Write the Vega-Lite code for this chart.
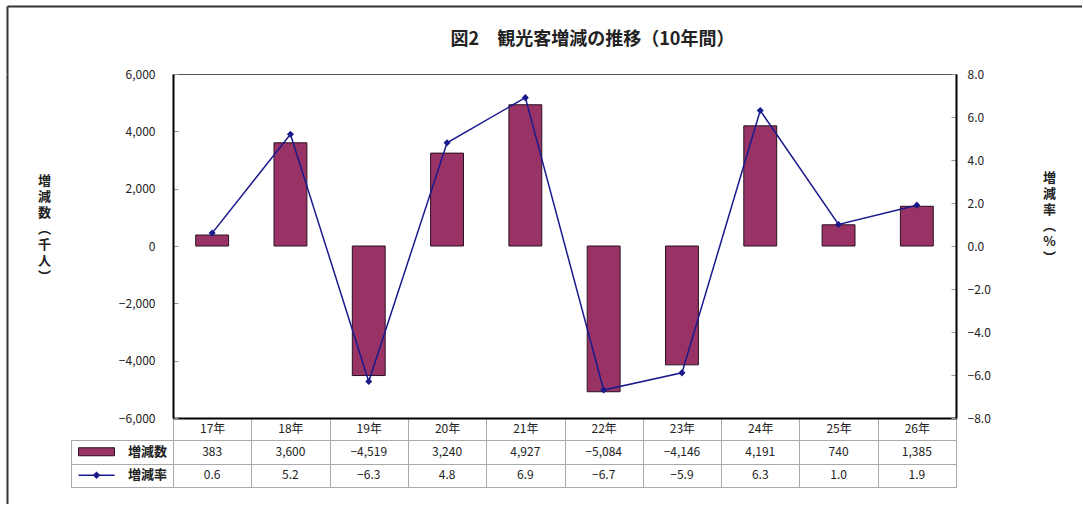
{
  "$schema": "https://vega.github.io/schema/vega-lite/v6.json",
  "padding": {"left": 7, "top": 6, "right": 0, "bottom": 0},
  "background": "white",
  "config": {
    "font": "Noto Sans CJK JP",
    "view": {"stroke": null},
    "axis": {"labelFont": "Noto Sans CJK JP", "titleFont": "Noto Sans CJK JP"}
  },
  "datasets": {
    "tourism": [
      {"year": "17年", "count": 383, "rate": 0.6},
      {"year": "18年", "count": 3600, "rate": 5.2},
      {"year": "19年", "count": -4519, "rate": -6.3},
      {"year": "20年", "count": 3240, "rate": 4.8},
      {"year": "21年", "count": 4927, "rate": 6.9},
      {"year": "22年", "count": -5084, "rate": -6.7},
      {"year": "23年", "count": -4146, "rate": -5.9},
      {"year": "24年", "count": 4191, "rate": 6.3},
      {"year": "25年", "count": 740, "rate": 1.0},
      {"year": "26年", "count": 1385, "rate": 1.9}
    ],
    "legendRows": [
      {"series": "増減数", "kind": "bar"},
      {"series": "増減率", "kind": "line"}
    ]
  },
  "bounds": "flush",
  "spacing": 0,
  "vconcat": [
    {
      "width": 1075,
      "height": 68,
      "data": {"values": []},
      "mark": "point",
      "encoding": {
        "x": {"field": "u", "type": "quantitative", "scale": {"domain": [0, 1]},
          "axis": {"orient": "top", "domainColor": "#333", "domainWidth": 2, "ticks": false, "labels": false, "grid": false, "title": null}},
        "y": {"field": "v", "type": "quantitative", "scale": {"domain": [0, 1]},
          "axis": {"orient": "left", "domainColor": "#333", "domainWidth": 2, "ticks": false, "labels": false, "grid": false, "title": null}}
      }
    },
    {
      "bounds": "flush",
      "spacing": 63,
      "hconcat": [
        {
          "width": 1,
          "height": 430,
          "data": {"values": []},
          "mark": "point",
          "encoding": {
            "y": {"field": "v", "type": "quantitative", "scale": {"domain": [0, 1]},
              "axis": {"orient": "left", "domainColor": "#333", "domainWidth": 2, "ticks": false, "labels": false, "grid": false, "title": null}}
          }
        },
        {
          "columns": 2,
          "bounds": "flush",
          "spacing": {"row": 22, "column": 0},
          "concat": [
            {"width": 102, "height": 344, "data": {"values": []}, "mark": "point"},
            {
              "width": 783,
              "height": 344,
              "data": {"name": "tourism"},
              "view": {"stroke": "#555", "strokeWidth": 1},
              "title": {"text": "図2　観光客増減の推移（10年間）", "fontSize": 18, "fontWeight": "bold", "color": "#222", "dx": 28, "offset": 19},
              "encoding": {
                "x": {"field": "year", "type": "nominal", "sort": null,
                  "scale": {"paddingInner": 0, "paddingOuter": 0},
                  "axis": {"orient": "bottom", "title": null, "labelAngle": 0, "domainColor": "#000", "domainWidth": 2,
                    "tickBand": "extent", "tickSize": 22, "tickColor": "#aaa", "tickWidth": 1,
                    "labelPadding": -17, "labelFontSize": 12, "labelColor": "#222"}}
              },
              "layer": [
                {
                  "layer": [
                    {
                      "mark": {"type": "bar", "color": "#993366", "stroke": "#2a1020", "strokeWidth": 1, "width": {"band": 0.42}},
                      "encoding": {
                        "y": {"field": "count", "type": "quantitative", "scale": {"domain": [-6000, 6000], "nice": false},
                          "axis": {"orient": "left", "values": [-6000, -4000, -2000, 0, 2000, 4000, 6000], "format": ",.0f",
                            "title": ["増", "減", "数", "︵", "千", "人", "︶"], "titleAngle": 0, "titleFontSize": 13, "titleFontWeight": "bold",
                            "titleColor": "#222", "titleX": -129, "titleY": 100, "titleAlign": "center", "titleBaseline": "top", "titleLineHeight": 16,
                            "labelFontSize": 12, "labelColor": "#222", "labelPadding": 23, "tickSize": -5, "tickColor": "#999",
                            "domainColor": "#000", "domainWidth": 2, "grid": false}}
                      }
                    },
                    {
                      "mark": {"type": "rule", "color": "#000", "strokeWidth": 1.5},
                      "encoding": {"y": {"datum": 0, "type": "quantitative"}}
                    }
                  ]
                },
                {
                  "layer": [
                    {
                      "mark": {"type": "line", "color": "#1a1a8c", "strokeWidth": 1.5},
                      "encoding": {
                        "y": {"field": "rate", "type": "quantitative", "scale": {"domain": [-8, 8], "nice": false},
                          "axis": {"orient": "right", "values": [-8, -6, -4, -2, 0, 2, 4, 6, 8], "format": ".1f",
                            "title": ["増", "減", "率", "︵", "%", "︶"], "titleAngle": 0, "titleFontSize": 13, "titleFontWeight": "bold",
                            "titleColor": "#222", "titleX": 93, "titleY": 97, "titleAlign": "center", "titleBaseline": "top", "titleLineHeight": 16,
                            "labelFontSize": 12, "labelColor": "#222", "labelPadding": 16, "tickSize": -5, "tickColor": "#999",
                            "domainColor": "#000", "domainWidth": 2, "grid": false}}
                      }
                    },
                    {
                      "mark": {"type": "point", "shape": "diamond", "filled": true, "color": "#1a1a8c", "size": 50, "opacity": 1},
                      "encoding": {"y": {"field": "rate", "type": "quantitative"}}
                    }
                  ]
                }
              ],
              "resolve": {"scale": {"y": "independent"}}
            },
            {
              "width": 102,
              "height": 47,
              "data": {"name": "legendRows"},
              "view": {"stroke": "#aaa", "strokeWidth": 1},
              "encoding": {
                "y": {"field": "series", "type": "nominal", "sort": null,
                  "scale": {"domain": ["増減数", "増減率"], "paddingInner": 0, "paddingOuter": 0},
                  "axis": {"labels": false, "ticks": false, "domain": false, "title": null, "grid": true, "gridColor": "#aaa", "tickBand": "extent"}}
              },
              "layer": [
                {
                  "transform": [{"filter": "datum.kind === 'bar'"}],
                  "mark": {"type": "tick", "orient": "horizontal", "color": "#993366", "thickness": 8, "size": 36, "stroke": "#2a1020", "strokeWidth": 1, "opacity": 1},
                  "encoding": {"x": {"datum": "key", "type": "nominal", "scale": {"domain": ["key", "label"], "paddingInner": 0, "paddingOuter": 0}, "axis": null}}
                },
                {
                  "transform": [{"filter": "datum.kind === 'line'"}],
                  "mark": {"type": "tick", "orient": "horizontal", "color": "#1a1a8c", "thickness": 1.5, "size": 36, "opacity": 1},
                  "encoding": {"x": {"datum": "key", "type": "nominal"}}
                },
                {
                  "transform": [{"filter": "datum.kind === 'line'"}],
                  "mark": {"type": "point", "shape": "diamond", "filled": true, "color": "#1a1a8c", "size": 55, "opacity": 1},
                  "encoding": {"x": {"datum": "key", "type": "nominal"}}
                },
                {
                  "mark": {"type": "text", "fontSize": 13, "fontWeight": "bold", "color": "#222"},
                  "encoding": {"x": {"datum": "label", "type": "nominal"}, "text": {"field": "series"}}
                }
              ]
            },
            {
              "width": 783,
              "height": 47,
              "data": {"name": "tourism"},
              "view": {"stroke": "#aaa", "strokeWidth": 1},
              "encoding": {
                "x": {"field": "year", "type": "nominal", "sort": null,
                  "scale": {"paddingInner": 0, "paddingOuter": 0},
                  "axis": {"labels": false, "ticks": false, "domain": false, "title": null, "grid": true, "gridColor": "#aaa", "tickBand": "extent"}}
              },
              "layer": [
                {
                  "mark": {"type": "text", "fontSize": 12, "color": "#222"},
                  "encoding": {
                    "y": {"datum": "増減数", "type": "nominal",
                      "scale": {"domain": ["増減数", "増減率"], "paddingInner": 0, "paddingOuter": 0},
                      "axis": {"labels": false, "ticks": false, "domain": false, "title": null, "grid": true, "gridColor": "#aaa", "tickBand": "extent"}},
                    "text": {"field": "count", "type": "quantitative", "format": ","}
                  }
                },
                {
                  "mark": {"type": "text", "fontSize": 12, "color": "#222"},
                  "encoding": {
                    "y": {"datum": "増減率", "type": "nominal"},
                    "text": {"field": "rate", "type": "quantitative", "format": ".1f"}
                  }
                }
              ]
            }
          ]
        }
      ]
    }
  ]
}
